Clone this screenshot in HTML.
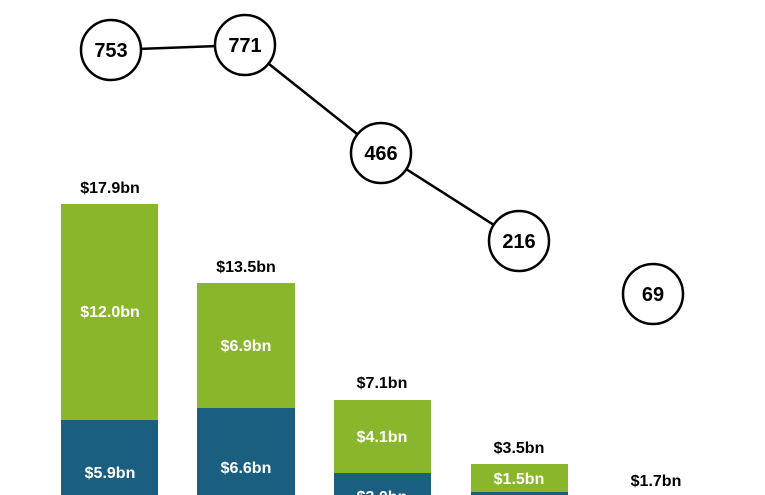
<!DOCTYPE html>
<html><head><meta charset="utf-8"><style>
html,body{margin:0;padding:0;background:#fff;}
svg{display:block;}
text{font-family:"Liberation Sans",sans-serif;font-weight:bold;}
</style></head><body>
<svg width="765" height="495" viewBox="0 0 765 495">
<rect width="765" height="495" fill="#fff"/>
<rect x="61" y="204" width="97" height="216" fill="#8AB62B"/>
<rect x="61" y="420" width="97" height="80" fill="#1A5F80"/>
<rect x="197" y="283" width="98" height="125" fill="#8AB62B"/>
<rect x="197" y="408" width="98" height="92" fill="#1A5F80"/>
<rect x="334" y="400" width="97" height="73" fill="#8AB62B"/>
<rect x="334" y="473" width="97" height="30" fill="#1A5F80"/>
<rect x="471" y="464" width="97" height="28" fill="#8AB62B"/>
<rect x="471" y="492" width="97" height="10" fill="#1A5F80"/>
<g font-size="16" text-anchor="middle" fill="#000">
<text x="110" y="193">$17.9bn</text>
<text x="246" y="272">$13.5bn</text>
<text x="382" y="388">$7.1bn</text>
<text x="519" y="453">$3.5bn</text>
<text x="656" y="486">$1.7bn</text>
</g>
<g font-size="16" text-anchor="middle" fill="#fff">
<text x="110" y="317">$12.0bn</text>
<text x="246" y="351">$6.9bn</text>
<text x="382" y="442">$4.1bn</text>
<text x="519" y="484">$1.5bn</text>
<text x="110" y="478">$5.9bn</text>
<text x="246" y="473">$6.6bn</text>
<text x="382" y="502">$3.0bn</text>
</g>
<polyline points="111,50 245,45 381,153 519,241" fill="none" stroke="#000" stroke-width="2.5"/>
<g fill="#fff" stroke="#000" stroke-width="2.5">
<circle cx="111" cy="50" r="30"/>
<circle cx="245" cy="45" r="30"/>
<circle cx="381" cy="153" r="30"/>
<circle cx="519" cy="241" r="30"/>
<circle cx="653" cy="294" r="30"/>
</g>
<g font-size="20" text-anchor="middle" fill="#000">
<text x="111" y="57">753</text>
<text x="245" y="52">771</text>
<text x="381" y="160">466</text>
<text x="519" y="248">216</text>
<text x="653" y="301">69</text>
</g>
</svg>
</body></html>
